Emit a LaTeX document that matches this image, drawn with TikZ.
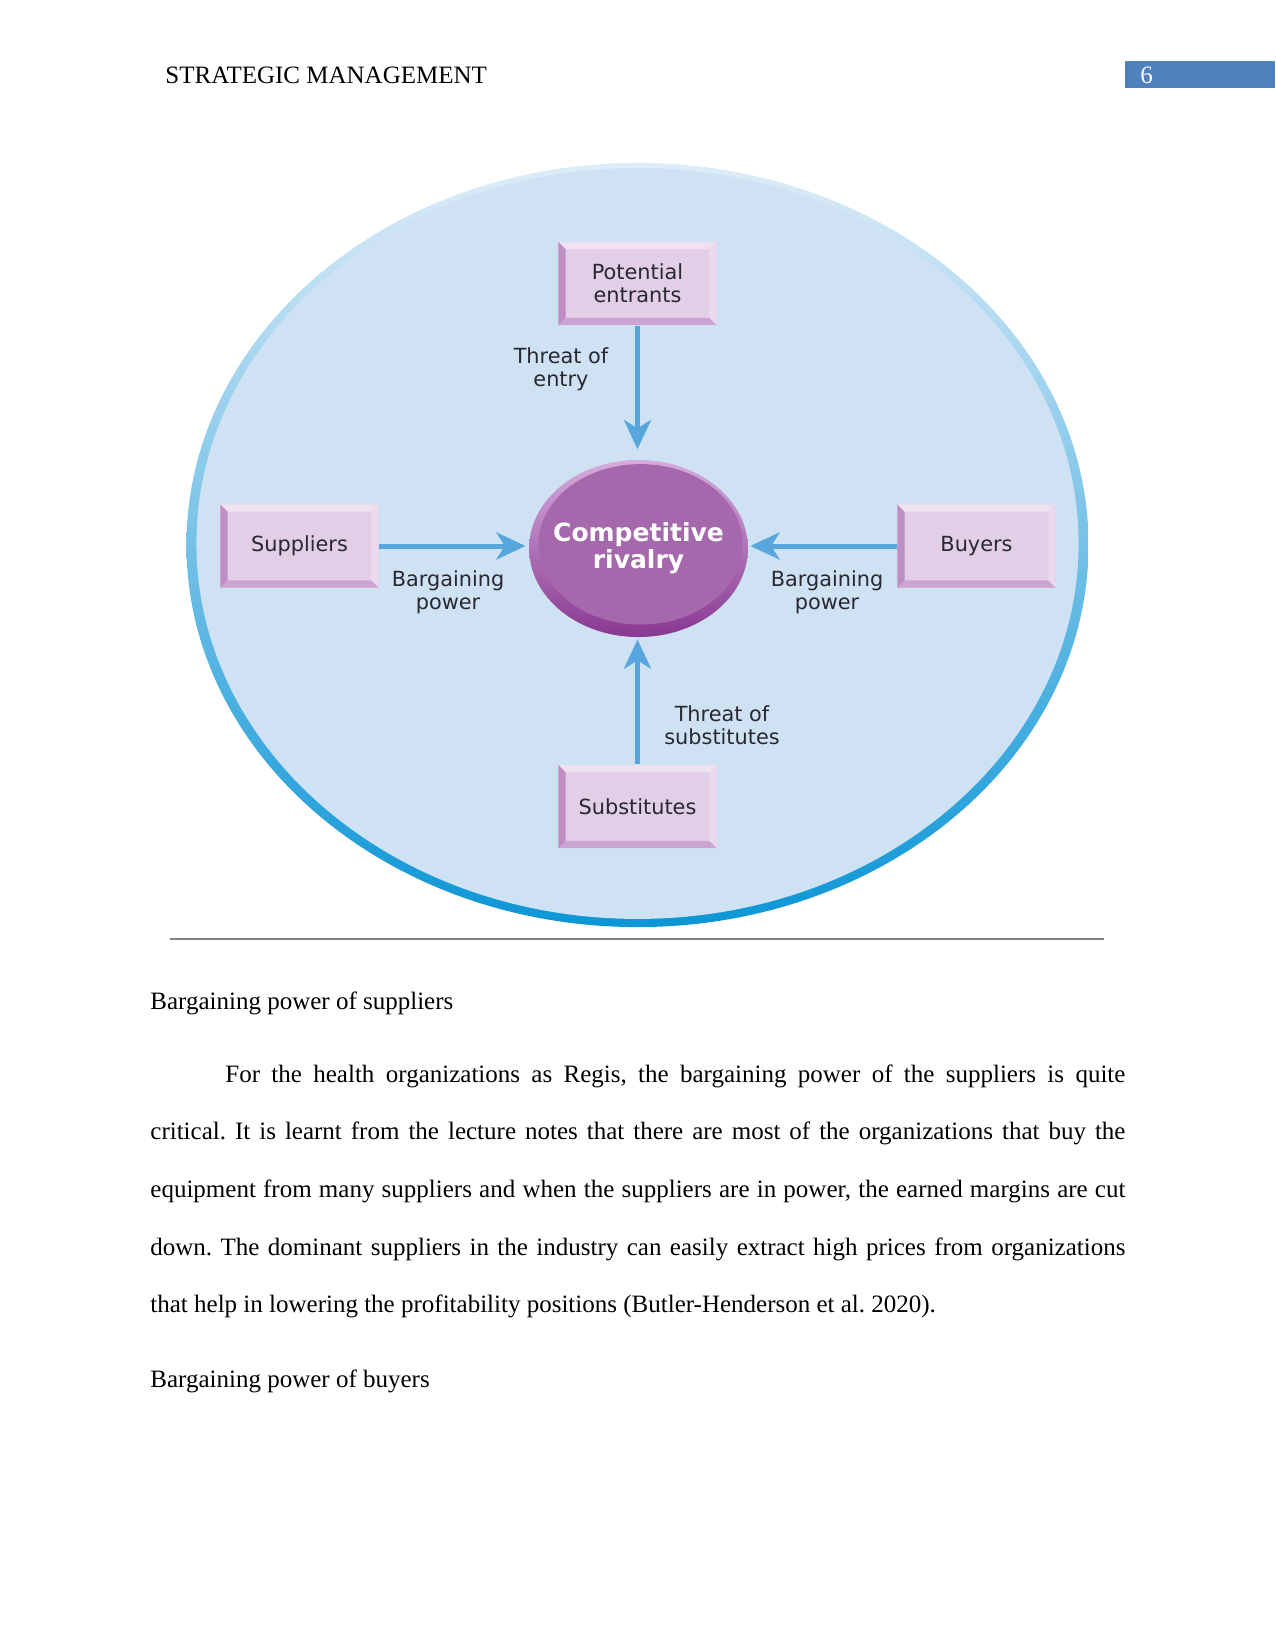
\documentclass[tikz,border=0pt]{standalone}
\usepackage{fontspec}
\setmainfont{Liberation Serif}
\newfontfamily\diagfont{DejaVu Sans}
\usetikzlibrary{arrows.meta,shapes.geometric,positioning}
\definecolor{pagebox}{RGB}{79,129,189}
\definecolor{ovalfill}{RGB}{207,226,244}
\definecolor{ringtop}{RGB}{222,236,248}
\definecolor{ringmid}{RGB}{111,176,224}
\definecolor{ringbot}{RGB}{12,150,214}
\definecolor{boxpink}{RGB}{226,206,231}
\definecolor{boxdark}{RGB}{190,142,197}
\definecolor{boxlight}{RGB}{238,226,241}
\definecolor{arrowblue}{RGB}{88,166,222}
\definecolor{rivalfill}{RGB}{166,104,172}
\definecolor{rivaltop}{RGB}{214,172,219}
\definecolor{rivalbot}{RGB}{136,56,146}
\definecolor{labeltext}{RGB}{40,40,48}

\begin{document}
\begin{tikzpicture}[x=0.48pt, y=-0.48pt,
  force/.style={rectangle, fill=boxpink, minimum width=76pt, minimum height=40pt, inner sep=0pt, align=center,
    font=\diagfont\fontsize{10}{11}\selectfont, text=labeltext,
    path picture={
      \fill[boxdark] (path picture bounding box.south west) -- (path picture bounding box.north west)
        -- ([xshift=3.5pt,yshift=-3.5pt]path picture bounding box.north west) -- ([xshift=3.5pt,yshift=3.5pt]path picture bounding box.south west) -- cycle;
      \fill[boxdark!80] (path picture bounding box.south west) -- (path picture bounding box.south east)
        -- ([xshift=-3.5pt,yshift=3.5pt]path picture bounding box.south east) -- ([xshift=3.5pt,yshift=3.5pt]path picture bounding box.south west) -- cycle;
      \fill[boxlight] (path picture bounding box.north west) -- (path picture bounding box.north east)
        -- ([xshift=-3.5pt,yshift=-3.5pt]path picture bounding box.north east) -- ([xshift=3.5pt,yshift=-3.5pt]path picture bounding box.north west) -- cycle;
      \fill[boxlight!60!boxpink] (path picture bounding box.north east) -- (path picture bounding box.south east)
        -- ([xshift=-3.5pt,yshift=3.5pt]path picture bounding box.south east) -- ([xshift=-3.5pt,yshift=-3.5pt]path picture bounding box.north east) -- cycle;
    }},
  lbl/.style={align=center, inner sep=0pt, font=\diagfont\fontsize{10}{11}\selectfont, text=labeltext},
  arrow/.style={-{Stealth[length=14pt,width=13pt,inset=4pt]}, line width=2.4pt, draw=arrowblue, fill=arrowblue},
  body/.style={inner sep=0pt, font=\fontsize{12}{27.7}\selectfont\frenchspacing}
]
\useasboundingbox (0,0) rectangle (1275,1650);
% running head
\node[body, anchor=base west] (head) at (165,84) {STRATEGIC MANAGEMENT};
\fill[pagebox] (1125,61) rectangle (1275,88);
\node[body, anchor=base west, text=white] (pagenum) at (1140,84) {6};
% five forces figure
\shade[top color=ringtop, middle color=ringmid, bottom color=ringbot] (637.5,545) ellipse (216.5pt and 183.4pt);
\fill[ovalfill] (637.5,543.5) ellipse (211.7pt and 180.2pt);
\node[ellipse, minimum width=105pt, minimum height=85pt, inner xsep=-5pt, inner ysep=0pt, top color=rivaltop, bottom color=rivalbot,
  path picture={\fill[rivalfill] ([xshift=1pt,yshift=2pt]path picture bounding box.center) ellipse (49pt and 38.5pt);},
  align=center, text=white, font=\diagfont\bfseries\fontsize{12}{13}\selectfont] (rivalry) at (638.5,548.5) {Competitive\\rivalry};
\node[force] (entrants) at (637.5,283.5) {Potential\\entrants};
\node[force] (suppliers) at (299.5,546) {Suppliers};
\node[force] (buyers) at (976.5,546) {Buyers};
\node[force] (substitutes) at (637.5,806.5) {Substitutes};
\draw[arrow, shorten >=5pt] (entrants.south) -- (entrants.south |- rivalry.north);
\draw[arrow, shorten >=1.5pt] (suppliers.east) -- (suppliers.east -| rivalry.west);
\draw[arrow, shorten >=1pt] (buyers.west) -- (buyers.west -| rivalry.east);
\draw[arrow, shorten >=1pt] (substitutes.north) -- (substitutes.north |- rivalry.south);
\node[lbl] (entryl) at (561,369) {Threat of\\entry};
\node[lbl] (supl) at (448,592) {Bargaining\\power};
\node[lbl] (buyl) at (827,592) {Bargaining\\power};
\node[lbl] (subl) at (722,725) {Threat of\\substitutes};
\draw[gray, line width=0.6pt] (170,939) -- (1104,939);
% body text
\node[body, anchor=base west] (sec1) at (150,1009) {Bargaining power of suppliers};
\node[body, anchor=base west, text width=468pt, align=justify] (para) at (150,1082) {\hspace*{36pt}For the health organizations as Regis, the bargaining power of the suppliers is quite\linebreak
critical. It is learnt from the lecture notes that there are most of the organizations that buy the\linebreak
equipment from many suppliers and when the suppliers are in power, the earned margins are cut\linebreak
down. The dominant suppliers in the industry can easily extract high prices from organizations\linebreak
that help in lowering the profitability positions (Butler-Henderson et al. 2020).};
\node[body, anchor=base west] (sec2) at (150,1387) {Bargaining power of buyers};
\end{tikzpicture}
\end{document}
